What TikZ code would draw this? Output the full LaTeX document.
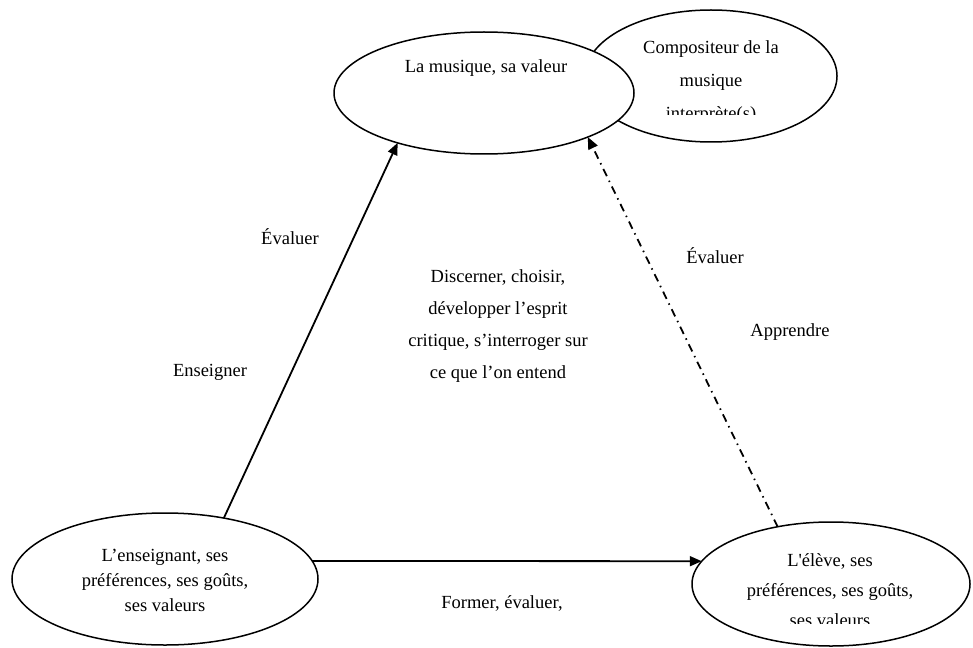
\documentclass[tikz,border=0pt]{standalone}
\usepackage{fontspec}
\setmainfont{Liberation Serif}
\newfontfamily\plainrm{Liberation Serif}
\usepackage{tikz}
\usetikzlibrary{positioning, arrows.meta, calc, shapes.geometric}

\begin{document}
\begin{tikzpicture}[x=1pt, y=-1pt,
    oval/.style={ellipse, draw=black, fill=white, line width=1.5pt, inner sep=0pt, outer sep=0pt},
    txt/.style={align=center, font=\fontsize{18.5}{25}\selectfont, inner sep=0pt},
    arr/.style={line width=1.8pt, -{Triangle[length=12pt, width=10pt]}}]
  \useasboundingbox (0,0) rectangle (973,647);
  % composer oval sits behind the music oval
  \node[oval, minimum width=252pt, minimum height=132pt] (comp) at (711,76) {};
  \begin{scope}
    \clip (585,0) rectangle (840,115);
    \node[txt, font=\fontsize{18.5}{33}\selectfont] (comptxt) at (711,82) {Compositeur de la\\musique\\interprète(s)};
  \end{scope}
  \node[oval, minimum width=300pt, minimum height=122pt] (mus) at (484,93) {};
  \node[txt] (mustxt) at (486,68) {La musique, sa valeur};

  \node[oval, minimum width=306pt, minimum height=132pt] (ens) at (165,579) {};
  \node[txt] (enstxt) at (165,580) {L’enseignant, ses\\préférences, ses goûts,\\ses valeurs};

  \node[oval, minimum width=278pt, minimum height=124pt] (eleve) at (831,584) {};
  \begin{scope}
    \clip (692,500) rectangle (973,623);
    \node[txt, font=\fontsize{18.5}{30}\selectfont] (elevetxt) at (830,590) {L{\plainrm '}élève, ses\\préférences, ses goûts,\\ses valeurs};
  \end{scope}

  % connectors
  \draw[arr] (ens.46) -- (mus.210);
  \draw[arr, dash pattern=on 8pt off 5pt on 1.5pt off 5pt] (eleve.133) -- (mus.337);
  \draw[arr] (ens.7) -- (eleve.170);

  % labels
  \node[txt] (evalg) at (290,237) {Évaluer};
  \node[txt] (enseigner) at (210,372) {Enseigner};
  \node[txt, font=\fontsize{18.5}{32}\selectfont] (discerner) at (498,326) {Discerner, choisir,\\développer l’esprit\\critique, s’interroger sur\\ce que l’on entend};
  \node[txt] (evald) at (715,256) {Évaluer};
  \node[txt] (apprendre) at (790,332) {Apprendre};
  \node[txt] (former) at (502,603) {Former, évaluer,};
\end{tikzpicture}
\end{document}
